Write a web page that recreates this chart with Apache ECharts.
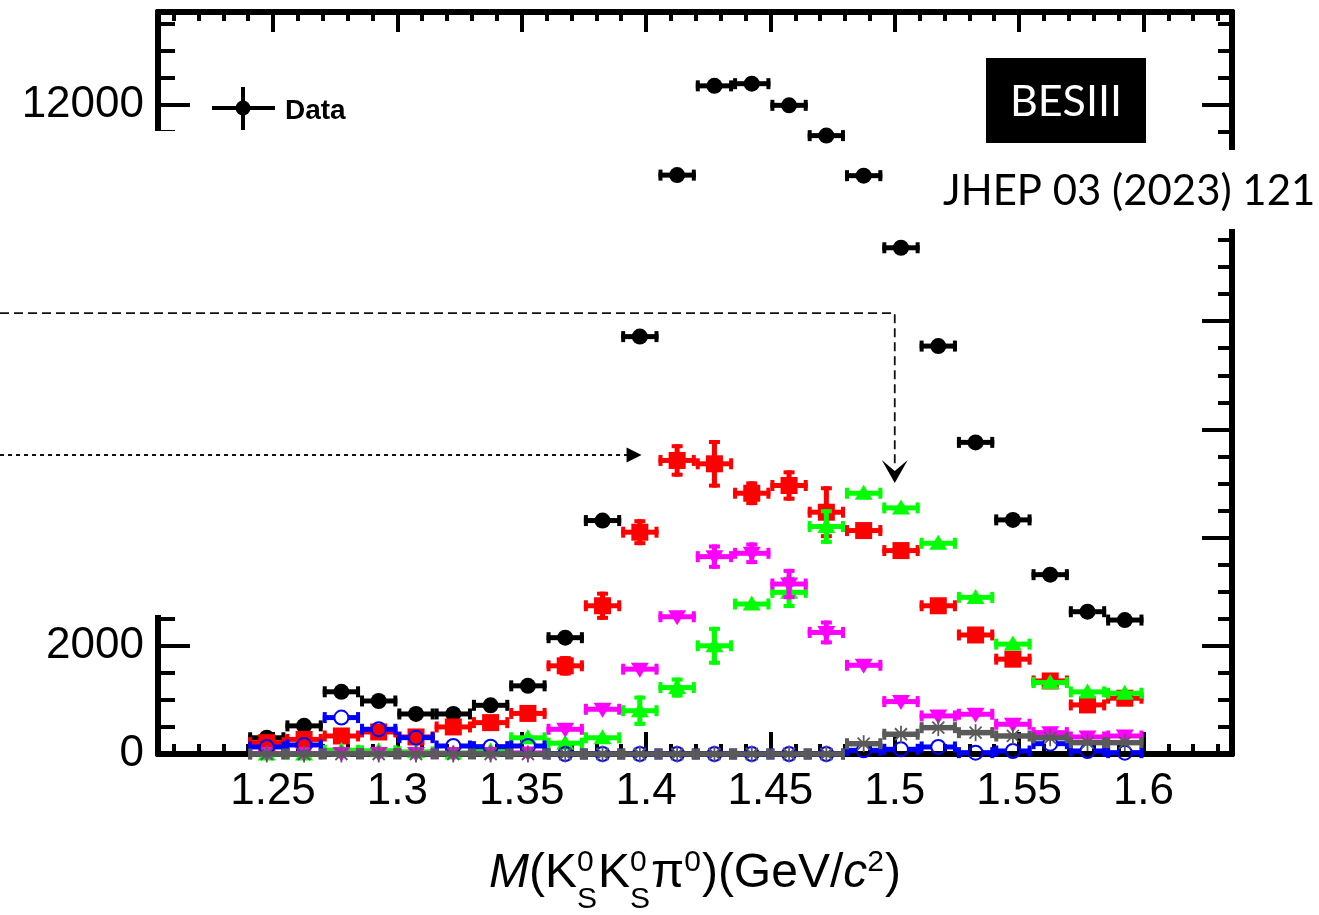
<!DOCTYPE html>
<html>
<head>
<meta charset="utf-8">
<script src="https://cdn.jsdelivr.net/npm/echarts@6/dist/echarts.min.js"></script>
<style>
  html, body { margin: 0; padding: 0; background: #fff; }
  #main { width: 1319px; height: 915px; }
</style>
</head>
<body>
<div id="main"></div>
<script>
// bins of M(KsKsPi0), GeV/c^2
var binCenters = [1.2475, 1.2625, 1.2775, 1.2925, 1.3075, 1.3225, 1.3375, 1.3525, 1.3675, 1.3825, 1.3975, 1.4125,
                  1.4275, 1.4425, 1.4575, 1.4725, 1.4875, 1.5025, 1.5175, 1.5325, 1.5475, 1.5625, 1.5775, 1.5925];
var binHalfWidth = 0.0075;

var dataVals   = [300, 520, 1150, 980, 740, 740, 900, 1260, 2150, 4315, 7715, 10700,
                  12350, 12390, 11990, 11430, 10690, 9357, 7540, 5760, 4327, 3315, 2630, 2476];
var dataErr    = [20, 25, 35, 35, 30, 30, 30, 40, 50, 70, 90, 105, 115, 115, 110, 110, 105, 100, 90, 80, 70, 60, 55, 50];

var redVals    = [210, 270, 333, 407, 315, 500, 580, 750, 1630, 2740, 4100, 5426,
                  5364, 4820, 4963, 4469, 4130, 3760, 2740, 2200, 1753, 1350, 907, 1031];
var redErr     = [60, 60, 60, 70, 60, 70, 80, 110, 180, 260, 240, 300, 440, 220, 280, 480, 90, 90, 90, 90, 90, 90, 90, 90];

var greenVals  = [0, 0, 70, 60, 40, 20, 60, 300, 200, 300, 800, 1228,
                  2000, 2772, 2988, 4204, 4820, 4549, 3895, 2895, 2031, 1321, 1148, 1124];
var greenErr   = [30, 30, 40, 40, 40, 40, 40, 60, 70, 90, 280, 185, 350, 110, 290, 320, 80, 80, 80, 80, 75, 75, 70, 70];

var magentaVals = [10, 10, 10, 10, 10, 10, 10, 20, 457, 827, 1568, 2537,
                   3648, 3710, 3142, 2247, 1640, 969, 704, 735, 550, 395, 315, 333];
var magentaErr  = [20, 20, 20, 20, 20, 20, 20, 40, 90, 90, 90, 125, 225, 200, 280, 220, 90, 90, 80, 80, 70, 70, 60, 60];

var blueVals   = [130, 167, 673, 457, 302, 148, 136, 148, 0, 0, 0, 0,
                  0, 0, 0, 0, 68, 87, 130, 25, 56, 191, 56, 25];
var blueErr    = [40, 40, 50, 45, 40, 40, 40, 40, 20, 20, 20, 20, 20, 20, 20, 20, 30, 30, 40, 30, 30, 40, 30, 30];

var grayVals   = [0, 0, 0, 0, 0, 0, 0, 0, 0, 0, 0, 0,
                  0, 0, 0, 0, 190, 365, 487, 395, 333, 300, 210, 210];
var grayErr    = [0, 0, 0, 0, 0, 0, 0, 0, 0, 0, 0, 0, 0, 0, 0, 0, 40, 50, 60, 50, 50, 50, 40, 40];

var xMajorTicks = [1.25, 1.3, 1.35, 1.4, 1.45, 1.5, 1.55, 1.6];
var xMinorTicks = [1.21, 1.22, 1.23, 1.24, 1.26, 1.27, 1.28, 1.29, 1.31, 1.32, 1.33, 1.34, 1.36, 1.37, 1.38, 1.39,
                   1.41, 1.42, 1.43, 1.44, 1.46, 1.47, 1.48, 1.49, 1.51, 1.52, 1.53, 1.54, 1.56, 1.57, 1.58, 1.59,
                   1.61, 1.62, 1.63];
var yMajorTicks = [0, 2000, 4000, 6000, 8000, 10000, 12000];
var yMinorTicks = [500, 1000, 1500, 2500, 3000, 3500, 4500, 5000, 5500, 6500, 7000, 7500,
                   8500, 9000, 9500, 10500, 11000, 11500, 12500, 13000, 13500];

// annotation arrows (data coords)
var arrowDashed = { y: 8150, x: 1.5, tipY: 5010 };
var arrowDotted = { y: 5527, tipX: 1.3982 };

var X_MIN = 1.20376, X_MAX = 1.6356, Y_MIN = 0, Y_MAX = 13715;
var FONT = "'Liberation Sans', Arial, sans-serif";

function toData(vals, errs) {
  return binCenters.map(function (x, i) { return [x, vals[i], errs[i], errs[i]]; });
}

function markerShape(kind, cx, cy, color) {
  if (kind === 'circle') {
    return { type: 'circle', shape: { cx: cx, cy: cy, r: 8 }, style: { fill: color } };
  }
  if (kind === 'square') {
    return { type: 'rect', shape: { x: cx - 8.5, y: cy - 8.5, width: 17, height: 17 }, style: { fill: color } };
  }
  if (kind === 'triUp') {
    return { type: 'polygon', shape: { points: [[cx, cy - 8.5], [cx + 9, cy + 6.5], [cx - 9, cy + 6.5]] }, style: { fill: color } };
  }
  if (kind === 'triDown') {
    return { type: 'polygon', shape: { points: [[cx, cy + 8.5], [cx + 9, cy - 6.5], [cx - 9, cy - 6.5]] }, style: { fill: color } };
  }
  if (kind === 'openCircle') {
    return { type: 'circle', shape: { cx: cx, cy: cy, r: 7 }, style: { fill: 'rgba(0,0,0,0)', stroke: color, lineWidth: 2 } };
  }
  // asterisk
  var s = 8.5, d = 6, lines = [];
  [[s, 0], [0, s], [d, d], [d, -d]].forEach(function (v) {
    lines.push({ type: 'line', shape: { x1: cx - v[0], y1: cy - v[1], x2: cx + v[0], y2: cy + v[1] },
                 style: { stroke: color, lineWidth: 1.8 } });
  });
  return { type: 'group', children: lines };
}

function makeRender(color, kind, barW, gap) {
  return function (params, api) {
    var x = api.value(0), y = api.value(1), lo = api.value(2), hi = api.value(3);
    var c = api.coord([x, y]);
    var L = api.coord([x - binHalfWidth, y])[0];
    var R = api.coord([x + binHalfWidth, y])[0];
    var T = api.coord([x, y + hi])[1];
    var B = api.coord([x, y - lo])[1];
    var cap = 5.5;
    var ls = { stroke: color, lineWidth: barW };
    var cs = { stroke: color, lineWidth: 4 };
    var ch = [];
    function ln(x1, y1, x2, y2, st) { ch.push({ type: 'line', shape: { x1: x1, y1: y1, x2: x2, y2: y2 }, style: st }); }
    ln(L, c[1], c[0] - gap, c[1], ls);
    ln(c[0] + gap, c[1], R, c[1], ls);
    ln(L + 2, c[1] - cap, L + 2, c[1] + cap, cs);
    ln(R - 2, c[1] - cap, R - 2, c[1] + cap, cs);
    if (c[1] - T > 8) {
      ln(c[0], T, c[0], c[1] - gap, ls);
      ln(c[0] - cap, T + 2, c[0] + cap, T + 2, cs);
    }
    if (B - c[1] > 8) {
      ln(c[0], c[1] + gap, c[0], B, ls);
      ln(c[0] - cap, B - 2, c[0] + cap, B - 2, cs);
    }
    ch.push(markerShape(kind, c[0], c[1], color));
    return { type: 'group', children: ch };
  };
}

function series(name, vals, errs, color, kind, barW, gap, z) {
  return {
    name: name, type: 'custom', xAxisIndex: 0, yAxisIndex: 0, clip: false, z: z,
    renderItem: makeRender(color, kind, barW, gap),
    encode: { x: 0, y: 1 },
    data: toData(vals, errs)
  };
}

var tickStyle = { color: '#000', width: 4 };
function xAx(pos, len, ticks, labels) {
  return {
    type: 'value', position: pos, min: X_MIN, max: X_MAX,
    splitLine: { show: false },
    axisLine: { show: true, onZero: false, lineStyle: { color: '#000', width: 6 } },
    axisTick: { show: true, inside: true, length: len, customValues: ticks, lineStyle: tickStyle },
    axisLabel: labels ? { show: true, customValues: xMajorTicks, fontSize: 44, color: '#000', fontFamily: FONT, margin: 16,
                          formatter: function (v) { return String(v); } } : { show: false }
  };
}
function yAx(pos, len, ticks, labels) {
  return {
    type: 'value', position: pos, min: Y_MIN, max: Y_MAX,
    splitLine: { show: false },
    axisLine: { show: true, onZero: false, lineStyle: { color: '#000', width: 6 } },
    axisTick: { show: true, inside: true, length: len, customValues: ticks, lineStyle: tickStyle },
    axisLabel: labels ? { show: true, customValues: yMajorTicks, fontSize: 44, color: '#000', fontFamily: FONT, margin: 14,
                          formatter: function (v) { return String(v); } } : { show: false }
  };
}

var chart = echarts.init(document.getElementById('main'));
chart.setOption({
  animation: false,
  backgroundColor: '#ffffff',
  grid: { left: 158, right: 87, top: 12, bottom: 161, containLabel: false },
  xAxis: [
    xAx('bottom', 22, xMajorTicks, true),
    xAx('bottom', 10, xMinorTicks, false),
    xAx('top', 20, xMajorTicks, false),
    xAx('top', 9, xMinorTicks, false)
  ],
  yAxis: [
    yAx('left', 32, yMajorTicks, true),
    yAx('left', 17, yMinorTicks, false),
    yAx('right', 30, yMajorTicks, false),
    yAx('right', 14, yMinorTicks, false)
  ],
  series: [
    series('Data', dataVals, dataErr, '#000000', 'circle', 5, 0, 2),
    series('red', redVals, redErr, '#ff0000', 'square', 5, 0, 3),
    series('green', greenVals, greenErr, '#00ff00', 'triUp', 5, 0, 4),
    series('magenta', magentaVals, magentaErr, '#ff00ff', 'triDown', 5, 0, 5),
    series('blue', blueVals, blueErr, '#0000ff', 'openCircle', 5, 7, 6),
    series('gray', grayVals, grayErr, '#5a5a5a', 'star', 5.5, 0, 7)
  ]
});

// ---- overlay texts, legend, arrows ----
var cv = document.createElement('canvas').getContext('2d');
function tw(text, font) { cv.font = font; return cv.measureText(text).width; }

function fitFont(text, family, weight, width) {
  var w = tw(text, weight + ' 100px ' + family);
  return 100 * width / w;
}

var g = [];
// white patches (cover parts of the axes as in the figure)
g.push({ type: 'rect', z: 100, shape: { x: 0, y: 131, width: 200, height: 484 }, style: { fill: '#fff' } });
g.push({ type: 'rect', z: 100, shape: { x: 1190, y: 150, width: 60, height: 79 }, style: { fill: '#fff' } });

// legend
g.push({ type: 'line', z: 101, shape: { x1: 212, y1: 108, x2: 275, y2: 108 }, style: { stroke: '#000', lineWidth: 4 } });
g.push({ type: 'line', z: 101, shape: { x1: 243, y1: 87, x2: 243, y2: 130 }, style: { stroke: '#000', lineWidth: 4 } });
g.push({ type: 'circle', z: 101, shape: { cx: 243, cy: 108, r: 7.5 }, style: { fill: '#000' } });
g.push({ type: 'text', z: 101, x: 285, y: 111, style: { text: 'Data', font: 'bold 28px ' + FONT, fill: '#000', verticalAlign: 'middle' } });

// BESIII box
g.push({ type: 'rect', z: 101, shape: { x: 986, y: 58, width: 160, height: 85 }, style: { fill: '#000' } });
var besSize = fitFont('BESIII', 'Lato', 'normal', 112);
g.push({ type: 'text', z: 102, x: 1066, y: 102, style: { text: 'BESIII', font: besSize.toFixed(1) + 'px Lato', fill: '#fff', align: 'center', verticalAlign: 'middle' } });

// journal reference
var jSize = fitFont('JHEP 03 (2023) 121', 'Lato', 'normal', 372);
g.push({ type: 'rect', z: 101, shape: { x: 935, y: 152, width: 384, height: 76 }, style: { fill: '#fff' } });
g.push({ type: 'text', z: 102, x: 943, y: 191, style: { text: 'JHEP 03 (2023) 121', font: jSize.toFixed(1) + 'px Lato', fill: '#000', verticalAlign: 'middle' } });

// axis title  M(K0S K0S pi0)(GeV/c2)
var TF = 48, TS = 30, baseY = 891;
var fMain = TF + 'px ' + FONT, fIt = 'italic ' + TF + 'px ' + FONT, fSm = TS + 'px ' + FONT;
var pieces = [
  { t: 'M', f: fIt }, { t: '(K', f: fMain }, { sup: '0', sub: 'S' }, { t: 'K', f: fMain }, { sup: '0', sub: 'S' },
  { t: '\u03c0', f: fMain }, { sup: '0' }, { t: ')(GeV/', f: fMain }, { t: 'c', f: fIt }, { sup: '2' }, { t: ')', f: fMain }
];
var total = 0;
pieces.forEach(function (p) {
  p.w = p.t ? tw(p.t, p.f) : Math.max(tw(p.sup, fSm), p.sub ? tw(p.sub, fSm) : 0) + 1;
  total += p.w;
});
var cx = 695 - total / 2;
pieces.forEach(function (p) {
  if (p.t) {
    g.push({ type: 'text', z: 101, x: cx, y: baseY - TF * 0.36, style: { text: p.t, font: p.f, fill: '#000', verticalAlign: 'middle' } });
  } else {
    g.push({ type: 'text', z: 101, x: cx, y: baseY - 17 - TS * 0.36, style: { text: p.sup, font: fSm, fill: '#000', verticalAlign: 'middle' } });
    if (p.sub) {
      g.push({ type: 'text', z: 101, x: cx, y: baseY + 20 - TS * 0.36, style: { text: p.sub, font: fSm, fill: '#000', verticalAlign: 'middle' } });
    }
  }
  cx += p.w;
});

// arrows
var toPx = function (pt) { return chart.convertToPixel({ xAxisIndex: 0, yAxisIndex: 0 }, pt); };
var a1 = toPx([arrowDashed.x, arrowDashed.y]);
var a1tip = toPx([arrowDashed.x, arrowDashed.tipY]);
g.push({ type: 'polyline', z: 103, shape: { points: [[0, a1[1]], [a1[0], a1[1]], [a1[0], a1tip[1] - 16]] },
         style: { stroke: '#111', lineWidth: 1.8, lineDash: [9, 5], fill: null } });
g.push({ type: 'polygon', z: 103, shape: { points: [[a1[0], a1tip[1]], [a1[0] + 13, a1tip[1] - 23], [a1[0], a1tip[1] - 12], [a1[0] - 13, a1tip[1] - 23]] },
         style: { fill: '#000' } });
var a2 = toPx([arrowDotted.tipX, arrowDotted.y]);
g.push({ type: 'line', z: 103, shape: { x1: 0, y1: a2[1], x2: a2[0] - 14, y2: a2[1] },
         style: { stroke: '#111', lineWidth: 1.8, lineDash: [4, 4] } });
g.push({ type: 'polygon', z: 103, shape: { points: [[a2[0], a2[1]], [a2[0] - 15, a2[1] - 7.5], [a2[0] - 15, a2[1] + 7.5]] },
         style: { fill: '#000' } });

chart.setOption({ graphic: { elements: g } });
</script>
</body>
</html>
